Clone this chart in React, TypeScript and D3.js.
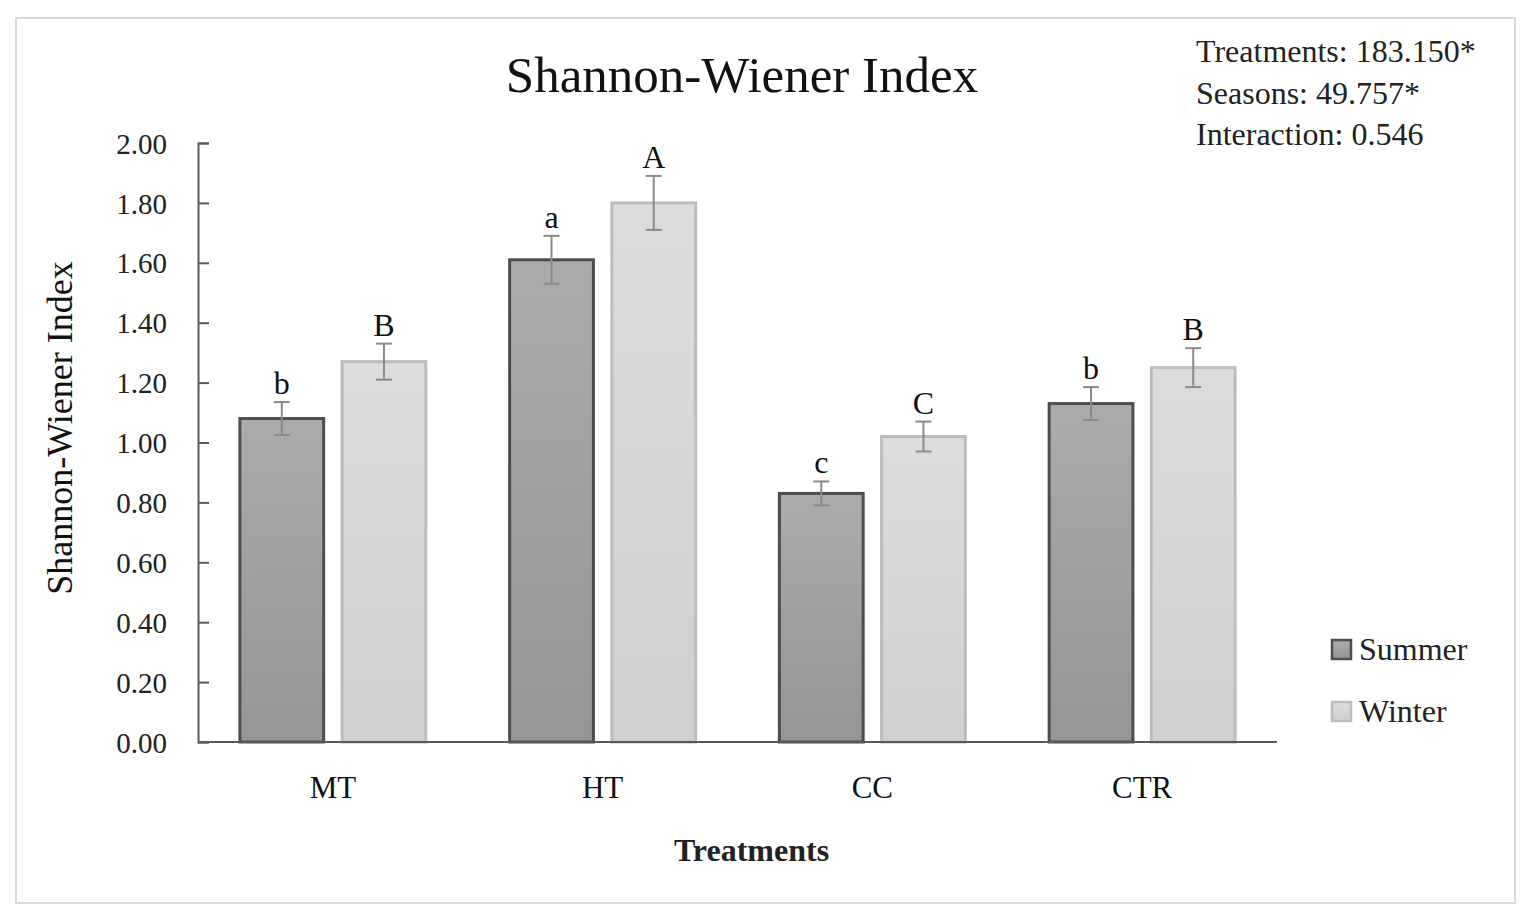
import { useEffect, useRef } from "react";
import * as d3 from "d3";

const treatments = ["MT", "HT", "CC", "CTR"];
const seasons = ["Summer", "Winter"];
const summerMean = [1.08, 1.61, 0.83, 1.13];
const winterMean = [1.27, 1.8, 1.02, 1.25];
const summerErr = [0.055, 0.08, 0.04, 0.055];
const winterErr = [0.06, 0.09, 0.05, 0.065];
const summerLetters = ["b", "a", "c", "b"];
const winterLetters = ["B", "A", "C", "B"];
const yTicks = [0, 0.2, 0.4, 0.6, 0.8, 1.0, 1.2, 1.4, 1.6, 1.8, 2.0];
const statsLines = ["Treatments: 183.150*", "Seasons: 49.757*", "Interaction: 0.546"];

const W = 1531;
const H = 915;
const FONT = "'Liberation Serif', 'DejaVu Serif', serif";

export default function App() {
  const ref = useRef<SVGSVGElement | null>(null);

  useEffect(() => {
    if (!ref.current) return;
    const svg = d3.select(ref.current);
    svg.selectAll("*").remove();

    const margin = { top: 143, right: 254, bottom: 173, left: 198 };
    const plotW = W - margin.left - margin.right;
    const plotH = H - margin.top - margin.bottom;

    const defs = svg.append("defs");
    const gradS = defs
      .append("linearGradient")
      .attr("id", "gSummer")
      .attr("x1", 0)
      .attr("y1", 0)
      .attr("x2", 0)
      .attr("y2", 1);
    gradS.append("stop").attr("offset", "0%").attr("stop-color", "#ababab");
    gradS.append("stop").attr("offset", "100%").attr("stop-color", "#959595");
    const gradW = defs
      .append("linearGradient")
      .attr("id", "gWinter")
      .attr("x1", 0)
      .attr("y1", 0)
      .attr("x2", 0)
      .attr("y2", 1);
    gradW.append("stop").attr("offset", "0%").attr("stop-color", "#dcdcdc");
    gradW.append("stop").attr("offset", "100%").attr("stop-color", "#d0d0d0");

    // frame
    svg
      .append("rect")
      .attr("x", 16)
      .attr("y", 18)
      .attr("width", 1499)
      .attr("height", 885)
      .attr("fill", "#fff")
      .attr("stroke", "#d9d9d9")
      .attr("stroke-width", 2);

    const g = svg.append("g").attr("transform", `translate(${margin.left},${margin.top})`);

    const y = d3.scaleLinear().domain([0, 2]).range([plotH, 0]);
    const x0 = d3.scaleBand().domain(treatments).range([0, plotW]).padding(0);
    const x1 = d3
      .scaleBand()
      .domain(seasons)
      .range([0, x0.bandwidth()])
      .paddingInner(0.18)
      .paddingOuter(0.41);

    // y axis
    const yAxis = g
      .append("g")
      .call(
        d3
          .axisLeft(y)
          .tickValues(yTicks)
          .tickFormat(d3.format(".2f"))
          .tickSizeInner(-11)
          .tickSizeOuter(-11)
          .tickPadding(31)
      );
    yAxis.selectAll("path, line").attr("stroke", "#595959").attr("stroke-width", 2);
    yAxis
      .selectAll("text")
      .attr("font-family", FONT)
      .attr("font-size", 29)
      .attr("fill", "#222")
      .attr("dy", "0.35em");

    const series = [
      { name: "Summer", mean: summerMean, err: summerErr, letters: summerLetters, fill: "url(#gSummer)", stroke: "#4d4d4d" },
      { name: "Winter", mean: winterMean, err: winterErr, letters: winterLetters, fill: "url(#gWinter)", stroke: "#bcbcbc" },
    ];

    series.forEach((s) => {
      treatments.forEach((t, i) => {
        const bx = (x0(t) ?? 0) + (x1(s.name) ?? 0);
        const bw = x1.bandwidth();
        g.append("rect")
          .attr("x", bx)
          .attr("y", y(s.mean[i]))
          .attr("width", bw)
          .attr("height", plotH - y(s.mean[i]))
          .attr("fill", s.fill)
          .attr("stroke", s.stroke)
          .attr("stroke-width", 3);

        const cx = bx + bw / 2;
        const hi = y(s.mean[i] + s.err[i]);
        const lo = y(s.mean[i] - s.err[i]);
        const cap = 8;
        const eg = g.append("g").attr("stroke", "#8a8a8a").attr("stroke-width", 2);
        eg.append("line").attr("x1", cx).attr("x2", cx).attr("y1", hi).attr("y2", lo);
        eg.append("line").attr("x1", cx - cap).attr("x2", cx + cap).attr("y1", hi).attr("y2", hi);
        eg.append("line").attr("x1", cx - cap).attr("x2", cx + cap).attr("y1", lo).attr("y2", lo);

        g.append("text")
          .attr("x", cx)
          .attr("y", hi - 8)
          .attr("text-anchor", "middle")
          .attr("font-family", FONT)
          .attr("font-size", 32)
          .attr("fill", "#111")
          .text(s.letters[i]);
      });
    });

    // x axis baseline
    g.append("line")
      .attr("x1", 0)
      .attr("x2", plotW)
      .attr("y1", plotH)
      .attr("y2", plotH)
      .attr("stroke", "#595959")
      .attr("stroke-width", 2);

    treatments.forEach((t) => {
      g.append("text")
        .attr("x", (x0(t) ?? 0) + x0.bandwidth() / 2)
        .attr("y", plotH + 56)
        .attr("text-anchor", "middle")
        .attr("font-family", FONT)
        .attr("font-size", 31)
        .attr("fill", "#111")
        .text(t);
    });

    // axis titles
    g.append("text")
      .attr("x", plotW / 2 + 14)
      .attr("y", plotH + 119)
      .attr("text-anchor", "middle")
      .attr("font-family", FONT)
      .attr("font-weight", "bold")
      .attr("font-size", 32)
      .attr("fill", "#222")
      .text("Treatments");

    svg
      .append("text")
      .attr("transform", `translate(72,428) rotate(-90)`)
      .attr("text-anchor", "middle")
      .attr("font-family", FONT)
      .attr("font-size", 36)
      .attr("fill", "#111")
      .text("Shannon-Wiener Index");

    // title
    svg
      .append("text")
      .attr("x", 742)
      .attr("y", 92)
      .attr("text-anchor", "middle")
      .attr("font-family", FONT)
      .attr("font-size", 51)
      .attr("fill", "#111")
      .text("Shannon-Wiener Index");

    // stats
    statsLines.forEach((line, i) => {
      svg
        .append("text")
        .attr("x", 1196)
        .attr("y", 62 + i * 41.5)
        .attr("font-family", FONT)
        .attr("font-size", 32)
        .attr("fill", "#222")
        .text(line);
    });

    // legend
    series.forEach((s, i) => {
      const ly = 640 + i * 62;
      svg
        .append("rect")
        .attr("x", 1332)
        .attr("y", ly)
        .attr("width", 19)
        .attr("height", 19)
        .attr("fill", s.fill)
        .attr("stroke", s.stroke)
        .attr("stroke-width", 2.5);
      svg
        .append("text")
        .attr("x", 1359)
        .attr("y", ly + 20)
        .attr("font-family", FONT)
        .attr("font-size", 32)
        .attr("fill", "#222")
        .text(s.name);
    });
  }, []);

  return (
    <svg
      ref={ref}
      width={W}
      height={H}
      style={{ position: "absolute", left: 0, top: 0, background: "#fff" }}
    />
  );
}
